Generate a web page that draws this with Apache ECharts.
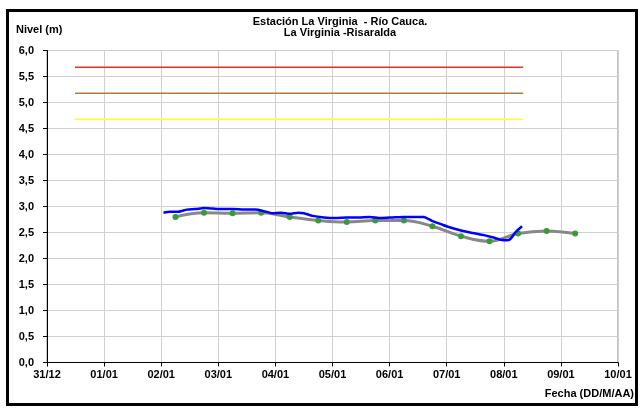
<!DOCTYPE html>
<html>
<head>
<meta charset="utf-8">
<script src="https://cdn.jsdelivr.net/npm/echarts@6/dist/echarts.min.js"></script>
<style>html,body{margin:0;padding:0;background:#fff}#c{width:643px;height:412px}</style>
</head>
<body>
<div id="c"></div>
<script>
var xTickLabels = ['31/12','01/01','02/01','03/01','04/01','05/01','06/01','07/01','08/01','09/01','10/01'];
var refX = [0.49, 8.34];
var refRed = 5.68, refBrown = 5.18, refYellow = 4.68;
var grayX = [2.25,2.75,3.25,3.75,4.25,4.75,5.25,5.75,6.25,6.75,7.25,7.75,8.25,8.75,9.25];
var grayY = [2.80,2.88,2.87,2.88,2.80,2.73,2.70,2.73,2.73,2.62,2.43,2.33,2.48,2.53,2.48];
var blueX = [2.04,2.15,2.30,2.45,2.60,2.75,2.90,3.05,3.25,3.45,3.65,3.80,3.95,4.10,4.25,4.40,4.50,4.65,4.85,5.05,5.25,5.45,5.65,5.85,6.05,6.25,6.45,6.60,6.75,6.90,7.05,7.25,7.45,7.65,7.80,7.95,8.05,8.12,8.20,8.32];
var blueY = [2.88,2.90,2.90,2.94,2.95,2.97,2.96,2.95,2.95,2.94,2.94,2.91,2.87,2.88,2.86,2.88,2.87,2.82,2.79,2.78,2.79,2.79,2.80,2.78,2.79,2.80,2.80,2.80,2.72,2.66,2.60,2.54,2.49,2.45,2.41,2.36,2.35,2.38,2.50,2.62];

function zip(a,b){return a.map(function(v,i){return [v,b[i]];});}
function refLine(v,color){
  return {type:'line',data:[[refX[0],v],[refX[1],v]],symbol:'none',lineStyle:{color:color,width:1.5},silent:true,z:2};
}
var FONT='"Liberation Sans", Arial, sans-serif';
var chart = echarts.init(document.getElementById('c'), null, {renderer:'canvas'});
chart.setOption({
  animation:false,
  backgroundColor:'#fff',
  grid:{left:47,right:25,top:50.5,bottom:49.5,show:true,borderColor:'#888',borderWidth:1,outerBoundsMode:'none'},
  xAxis:{type:'value',min:0,max:10,interval:1,
    axisLine:{show:true,onZero:false,lineStyle:{color:'#000',width:1}},
    axisTick:{show:true,length:4,lineStyle:{color:'#000'}},
    splitLine:{show:true,lineStyle:{color:'#d0d0d0',width:1}},
    axisLabel:{margin:7,color:'#000',fontFamily:FONT,fontWeight:'bold',fontSize:11,
      formatter:function(v){return xTickLabels[Math.round(v)]||'';}}
  },
  yAxis:{type:'value',min:0,max:6,interval:0.5,
    axisLine:{show:true,lineStyle:{color:'#000',width:1}},
    axisTick:{show:true,length:4,lineStyle:{color:'#000'}},
    splitLine:{show:true,lineStyle:{color:'#d0d0d0',width:1}},
    axisLabel:{margin:13,color:'#000',fontFamily:FONT,fontWeight:'bold',fontSize:11,
      formatter:function(v){return v.toFixed(1).replace('.',',');}}
  },
  series:[
    refLine(refRed,'#e8302a'),
    refLine(refBrown,'#b07a45'),
    refLine(refYellow,'#ffff33'),
    {type:'line',data:zip(grayX,grayY),smooth:0.4,symbol:'circle',symbolSize:6,
      lineStyle:{color:'#888888',width:3},itemStyle:{color:'#3a9a3a',borderWidth:0},z:3},
    {type:'line',data:zip(blueX,blueY),smooth:0.2,symbol:'none',
      lineStyle:{color:'#0000ff',width:2.5},z:4}
  ],
  graphic:[
    {type:'rect',shape:{x:7.5,y:10.5,width:629,height:394},style:{fill:'none',stroke:'#000',lineWidth:3},z:100},
    {type:'text',x:16,y:30,style:{text:'Nivel (m)',font:'bold 11px '+FONT,fill:'#000',textVerticalAlign:'middle',textAlign:'left'}},
    {type:'text',x:340,y:22,style:{text:'Estación La Virginia  - Río Cauca.',font:'bold 11px '+FONT,fill:'#000',textAlign:'center',textVerticalAlign:'middle'}},
    {type:'text',x:340,y:33,style:{text:'La Virginia -Risaralda',font:'bold 11px '+FONT,fill:'#000',textAlign:'center',textVerticalAlign:'middle'}},
    {type:'text',x:634,y:394,style:{text:'Fecha (DD/M/AA)',font:'bold 11px '+FONT,fill:'#000',textAlign:'right',textVerticalAlign:'middle'}}
  ]
});
</script>
</body>
</html>
